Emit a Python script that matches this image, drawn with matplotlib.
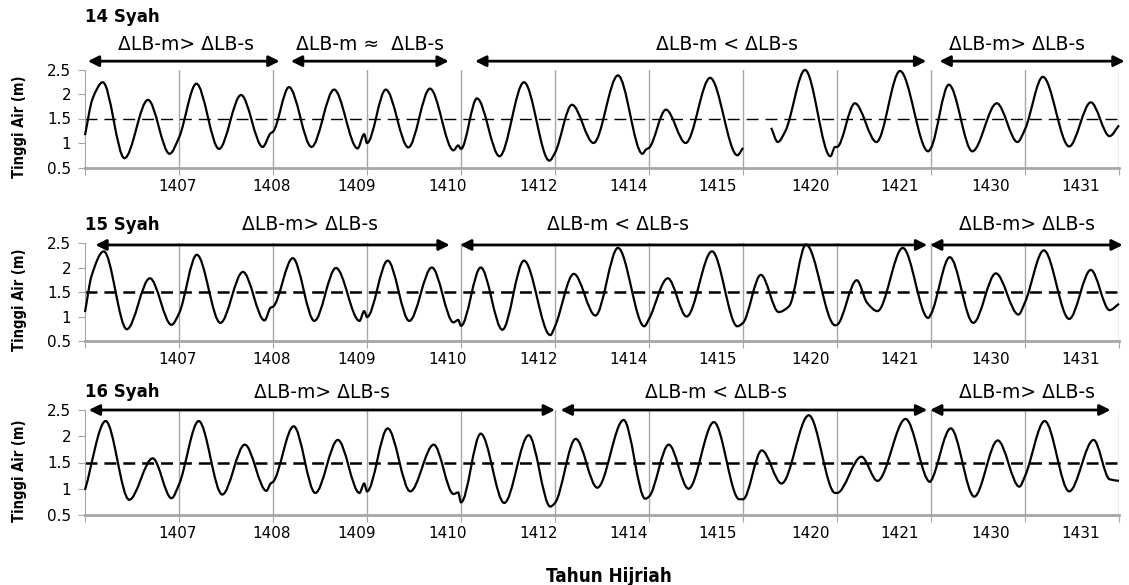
import numpy as np
import matplotlib
matplotlib.use("Agg")
import matplotlib.pyplot as plt
from matplotlib.path import Path
from matplotlib.patches import PathPatch

# tick labels (tahun hijriah) and where they sit on the category axis
year_labels = ["1407", "1408", "1409", "1410", "1412", "1414", "1415", "1420", "1421", "1430", "1431"]
label_pos = [0.98, 1.98, 2.89, 3.86, 4.83, 5.78, 6.73, 7.72, 8.67, 9.63, 10.59]
mean_level = 1.5

# 14 Syah (two pieces, data missing at start of the 1420 block)
s14_xa = [0.00, 0.08, 0.19, 0.42, 0.67, 0.90, 1.00, 1.185, 1.426, 1.66, 1.89, 1.975, 2.00,
          2.17, 2.41, 2.65, 2.90, 2.97, 3.00, 3.20, 3.44, 3.67, 3.92, 3.97, 4.00,
          4.17, 4.41, 4.67, 4.94, 5.00, 5.18, 5.41, 5.67, 5.93, 5.97, 6.00,
          6.18, 6.39, 6.65, 6.94, 7.00]
s14_ya = [1.16, 1.90, 2.24, 0.69, 1.88, 0.78, 1.11, 2.21, 0.88, 1.98, 0.92, 1.20, 1.23,
          2.14, 0.92, 2.09, 0.89, 1.18, 1.00, 2.09, 0.91, 2.11, 0.85, 0.95, 0.88,
          1.91, 0.73, 2.24, 0.64, 0.80, 1.78, 1.00, 2.38, 0.78, 0.87, 0.90,
          1.68, 1.00, 2.33, 0.75, 0.90]
s14_xb = [7.30, 7.37, 7.45, 7.66, 7.93, 7.98, 8.00, 8.19, 8.42, 8.67, 8.97, 9.00,
          9.19, 9.44, 9.70, 9.92, 10.00, 10.19, 10.47, 10.70, 10.90, 11.00]
s14_yb = [1.31, 1.02, 1.24, 2.49, 0.73, 0.92, 0.92, 1.81, 1.02, 2.47, 0.83, 0.90,
          2.19, 0.83, 1.81, 1.02, 1.28, 2.35, 0.93, 1.83, 1.14, 1.36]

# 15 Syah
s15_x = [0.00, 0.07, 0.20, 0.445, 0.69, 0.92, 1.00, 1.19, 1.44, 1.68, 1.91, 1.975, 2.00,
         2.21, 2.44, 2.67, 2.92, 2.97, 3.00, 3.22, 3.45, 3.69, 3.92, 3.97, 4.00,
         4.21, 4.44, 4.67, 4.95, 5.00, 5.20, 5.43, 5.67, 5.95, 6.00,
         6.20, 6.40, 6.67, 6.94, 7.00, 7.19, 7.38, 7.49, 7.67, 7.98, 8.00,
         8.21, 8.32, 8.43, 8.70, 8.97, 9.00, 9.20, 9.45, 9.69, 9.93, 10.00,
         10.20, 10.47, 10.70, 10.90, 11.00]
s15_y = [1.09, 1.83, 2.33, 0.74, 1.78, 0.83, 1.06, 2.26, 0.87, 1.91, 0.92, 1.18, 1.20,
         2.19, 0.91, 1.99, 0.91, 1.11, 0.99, 2.14, 0.91, 2.00, 0.88, 0.93, 0.81,
         2.00, 0.73, 2.14, 0.62, 0.80, 1.87, 1.02, 2.40, 0.80, 0.95,
         1.78, 1.00, 2.33, 0.80, 0.87, 1.85, 1.09, 1.21, 2.47, 0.82, 0.83,
         1.74, 1.28, 1.11, 2.40, 0.97, 1.05, 2.21, 0.87, 1.88, 1.04, 1.29,
         2.35, 0.95, 1.95, 1.13, 1.26]

# 16 Syah
s16_x = [0.00, 0.22, 0.47, 0.72, 0.92, 1.00, 1.21, 1.46, 1.70, 1.93, 1.975, 2.00,
         2.22, 2.45, 2.69, 2.92, 2.97, 3.00, 3.22, 3.46, 3.71, 3.92, 3.97, 4.00,
         4.21, 4.46, 4.72, 4.95, 5.00, 5.22, 5.45, 5.73, 5.96, 6.00,
         6.21, 6.42, 6.69, 6.96, 7.00, 7.20, 7.41, 7.70, 7.98, 8.00,
         8.26, 8.43, 8.73, 8.99, 9.00, 9.21, 9.46, 9.71, 9.94, 10.00,
         10.21, 10.47, 10.73, 10.90, 11.00]
s16_y = [0.98, 2.29, 0.79, 1.58, 0.82, 1.08, 2.29, 0.89, 1.84, 0.96, 1.10, 1.13,
         2.19, 0.92, 1.93, 0.92, 1.10, 0.95, 2.15, 0.95, 1.84, 0.90, 0.93, 0.74,
         2.05, 0.73, 2.02, 0.66, 0.73, 1.95, 1.02, 2.31, 0.81, 0.85,
         1.84, 1.00, 2.27, 0.80, 0.80, 1.73, 1.10, 2.40, 0.92, 0.92,
         1.61, 1.15, 2.33, 1.13, 1.15, 2.15, 0.85, 1.92, 1.04, 1.24,
         2.29, 0.95, 1.93, 1.18, 1.15]

# phase annotations: (start, end, text x, label)
GT = "\u0394LB-m> \u0394LB-s"
AP = "\u0394LB-m \u2248  \u0394LB-s"
LT = "\u0394LB-m < \u0394LB-s"
s14_phases = [(0.03, 2.07, 1.07, GT), (2.19, 3.87, 3.03, AP), (4.15, 8.95, 6.83, LT), (9.09, 11.06, 9.91, GT)]
s15_phases = [(0.11, 3.88, 2.39, GT), (3.99, 8.96, 5.67, LT), (8.99, 11.04, 10.02, GT)]
s16_phases = [(0.04, 5.00, 2.52, GT), (5.06, 8.96, 6.71, LT), (8.99, 10.91, 10.02, GT)]


def smooth_path(x, y):
    # monotone cubic through the points, drawn as bezier segments
    x = np.asarray(x, float)
    y = np.asarray(y, float)
    h = np.diff(x)
    d = np.diff(y) / h
    m = np.zeros_like(y)
    for i in range(1, len(x) - 1):
        if d[i - 1] * d[i] > 0:
            w1 = 2 * h[i] + h[i - 1]
            w2 = h[i] + 2 * h[i - 1]
            m[i] = (w1 + w2) / (w1 / d[i - 1] + w2 / d[i])
    m[0] = d[0]
    m[-1] = d[-1]
    verts = [(x[0], y[0])]
    codes = [Path.MOVETO]
    for i in range(len(h)):
        verts += [(x[i] + h[i] / 3, y[i] + m[i] * h[i] / 3),
                  (x[i + 1] - h[i] / 3, y[i + 1] - m[i + 1] * h[i] / 3),
                  (x[i + 1], y[i + 1])]
        codes += [Path.CURVE4] * 3
    return Path(verts, codes)


fig = plt.figure(figsize=(11.29, 5.85), dpi=100)
W, H = 1129.0, 585.0
gray = "#a6a6a6"

# panel rectangles in pixels: (top of 2.5, bottom of 0.5)
panels = [
    ("14 Syah", [(s14_xa, s14_ya), (s14_xb, s14_yb)], s14_phases, 69.5, 167.5, 1.0, 2.67, 3.02, 3.57),
    ("15 Syah", [(s15_x, s15_y)], s15_phases, 243, 341, 1.8, 2.46, 2.87, 2.87),
    ("16 Syah", [(s16_x, s16_y)], s16_phases, 410, 515, 1.8, 2.50, 2.84, 2.84),
]

for title, pieces, phases, top, bot, dash_lw, arr_y, txt_y, ttl_y in panels:
    ax = fig.add_axes([85 / W, 1 - bot / H, (1119 - 85) / W, (bot - top) / H])
    ax.set_xlim(0, 11)
    ax.set_ylim(0.5, 2.5)
    for sp in ["top", "right"]:
        ax.spines[sp].set_visible(False)
    ax.spines["left"].set_color(gray)
    ax.spines["bottom"].set_color(gray)
    ax.spines["bottom"].set_linewidth(2)
    ax.set_yticks([0.5, 1, 1.5, 2, 2.5])
    ax.set_yticklabels(["0.5", "1", "1.5", "2", "2.5"])
    ax.tick_params(axis="y", direction="out", length=5, color=gray, labelsize=11, pad=5)
    ax.set_xticks(range(12))
    ax.set_xticklabels([])
    ax.tick_params(axis="x", which="major", direction="out", length=5, color=gray)
    ax.set_xticks(label_pos, minor=True)
    ax.set_xticklabels(year_labels, minor=True)
    ax.tick_params(axis="x", which="minor", length=0, labelsize=11, pad=8)
    for b in range(1, 12):
        ax.axvline(b, color=gray, lw=1, zorder=1)

    ax.axhline(mean_level, color="black", lw=dash_lw, dashes=(8.6 / dash_lw, 5.0 / dash_lw), zorder=2)
    for px, py in pieces:
        ax.add_patch(PathPatch(smooth_path(px, py), fill=False, ec="black", lw=1.6, zorder=3, clip_on=False))

    for x0, x1, tx, lab in phases:
        ax.annotate("", xy=(x1, arr_y), xytext=(x0, arr_y), annotation_clip=False,
                    arrowprops=dict(arrowstyle="<|-|>", color="black", lw=2, mutation_scale=16,
                                    shrinkA=0, shrinkB=0))
        ax.text(tx, txt_y, lab, ha="center", va="center", fontsize=13.5, clip_on=False)
    ax.text(0.0, ttl_y, title, ha="left", va="center", fontsize=12, fontweight="bold", clip_on=False)

    fig.text(20 / W, 1 - ((top + bot) / 2 + 8) / H, "Tinggi Air (m)", rotation=90,
             ha="center", va="center", fontsize=10.5, fontweight="bold", fontstretch="condensed",
             family="DejaVu Sans")

fig.text(609 / W, 1 - 576 / H, "Tahun Hijriah", ha="center", va="center", fontsize=13.5,
         fontweight="bold", fontstretch="condensed", family="DejaVu Sans")

fig.savefig("out.png", dpi=100)
